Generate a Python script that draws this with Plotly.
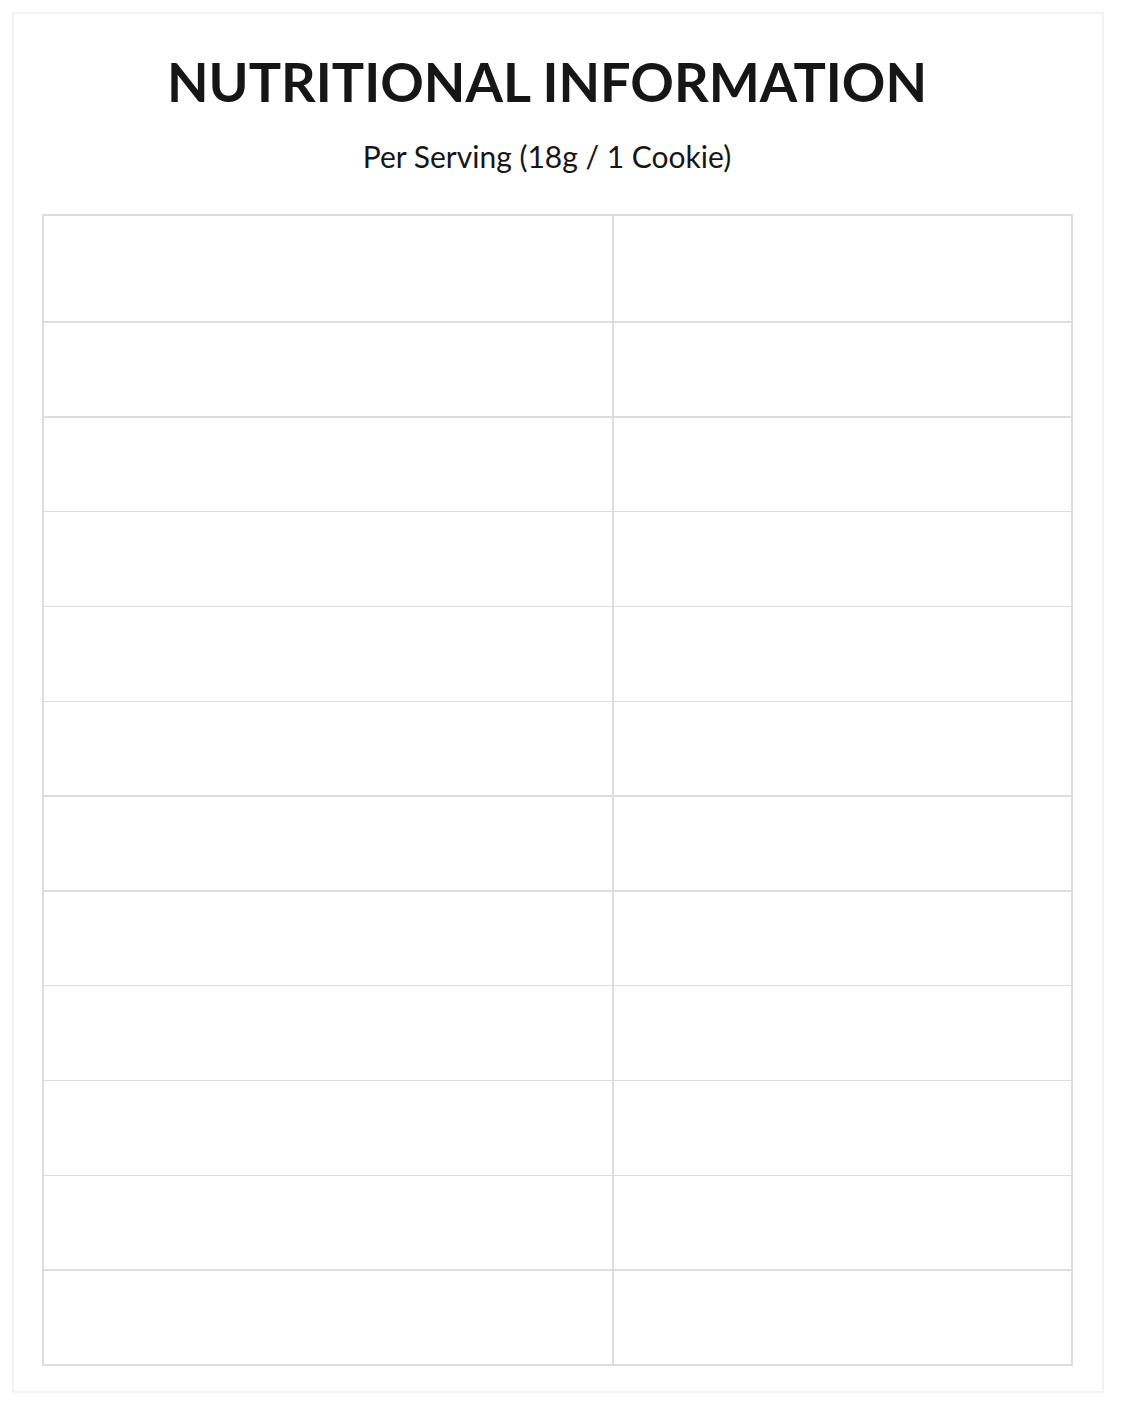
import plotly.graph_objects as go

title = "NUTRITIONAL INFORMATION"
subtitle = "Per Serving (18g / 1 Cookie)"
headers = ["NUTRIENT", "AMOUNT PER SERVING"]
nutrients = ["Energy", "Protein", "Carbohydrates", "Total Sugar", "Added Sugar",
             "Total Fat", "Saturated Fat", "Trans Fat", "Dietary Fiber", "Sodium", "Cholesterol"]
amounts = ["28 kcal", "1.5 g", "2.9 g", "0.5 g", "0 g", "1.6 g", "0.3 g", "0 g",
           "1.0 g", "10 mg", "0 mg"]
sub_rows = ["Total Sugar", "Added Sugar", "Saturated Fat", "Trans Fat"]

# page has an ~8px body offset; work in shifted pixel coordinates
OFF = 8
W, H = 1122 - OFF, 1402 - OFF
TOP, BOT = 215 - OFF, 1365 - OFF
X0, XM, X1 = 43 - OFF, 613 - OFF, 1072 - OFF
HEAD_H = 107
ROW_H = (BOT - TOP - HEAD_H) / len(nutrients)

line = "#dddddd"
ink = "#161616"

fig = go.Figure()
fig.add_trace(go.Table(
    domain=dict(x=[X0 / W, X1 / W], y=[0, 1 - TOP / H]),
    columnwidth=[XM - X0, X1 - XM],
    header=dict(values=["", ""], height=HEAD_H, fill_color="white",
                line=dict(color=line, width=1.5)),
    cells=dict(values=[[""] * len(nutrients), [""] * len(nutrients)], height=ROW_H,
               fill_color="white", line=dict(color=line, width=1.5)),
))

row_y = [TOP + HEAD_H + ROW_H * (i + 0.5) for i in range(len(nutrients))]
head_y = TOP + HEAD_H / 2

# left column text
fig.add_trace(go.Scatter(
    x=[(112 if n in sub_rows else 75) - OFF for n in nutrients], y=row_y,
    text=nutrients, mode="text", textposition="middle right",
    textfont=dict(family="Lato", size=29, color=ink), hoverinfo="skip"))
# right column text
fig.add_trace(go.Scatter(
    x=[1034 - OFF] * len(amounts), y=row_y, text=amounts, mode="text",
    textposition="middle left", textfont=dict(family="Lato", size=29, color=ink),
    hoverinfo="skip"))
# header text
fig.add_trace(go.Scatter(
    x=[75 - OFF, 1034 - OFF], y=[head_y, head_y],
    text=["<b>" + h + "</b>" for h in headers], mode="text",
    textposition=["middle right", "middle left"],
    textfont=dict(family="Lato", size=26, color=ink), hoverinfo="skip"))
# titles
fig.add_trace(go.Scatter(
    x=[547 - OFF, 547 - OFF], y=[88 - OFF, 160 - OFF],
    text=["<b>" + title + "</b>", subtitle], mode="text", textposition="middle center",
    textfont=dict(family="Lato", size=[54, 30], color=ink), hoverinfo="skip"))

fig.add_shape(type="rect", xref="x", yref="y", x0=13 - OFF, x1=1103 - OFF,
              y0=13 - OFF, y1=1392 - OFF, line=dict(color="#eeeeee", width=1.5), layer="below")

fig.update_xaxes(range=[0, W], visible=False, fixedrange=True)
fig.update_yaxes(range=[H, 0], visible=False, fixedrange=True)
fig.update_layout(width=W, height=H, margin=dict(l=0, r=0, t=0, b=0), showlegend=False,
                  paper_bgcolor="rgba(0,0,0,0)", plot_bgcolor="rgba(0,0,0,0)")
fig.write_html("out.html")
